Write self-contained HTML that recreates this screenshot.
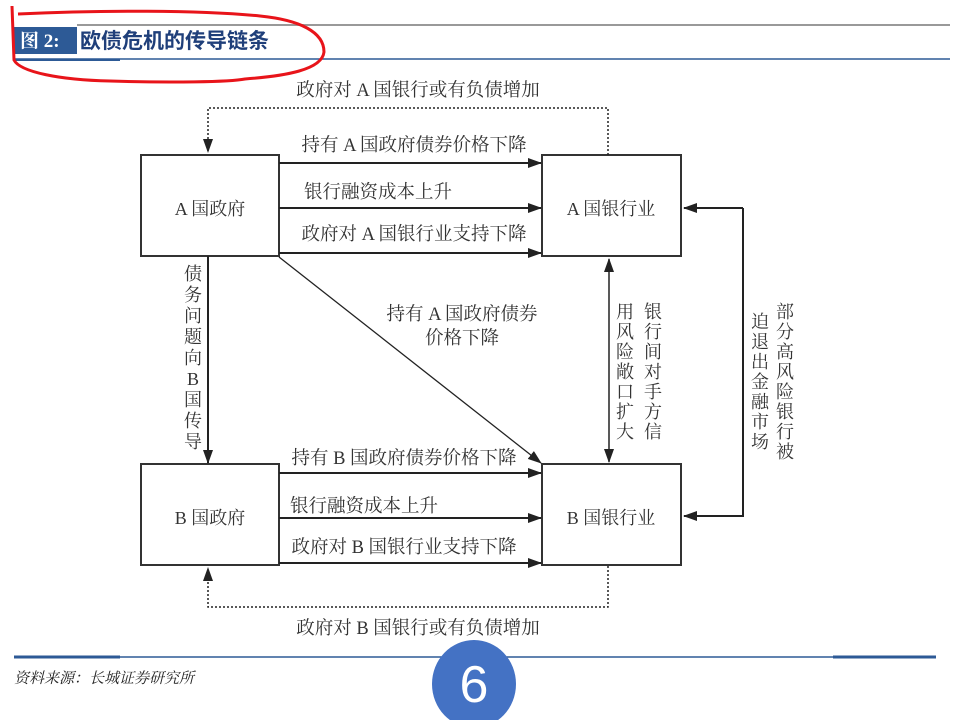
<!DOCTYPE html>
<html><head><meta charset="utf-8"><style>
body{margin:0;background:#fff;}
svg text{font-family:"Liberation Serif","Noto Serif CJK SC",serif;fill:#333;}
</style></head><body>
<svg width="960" height="720" viewBox="0 0 960 720" xmlns="http://www.w3.org/2000/svg">
<defs>
<marker id="ar" markerWidth="14" markerHeight="10" refX="13" refY="5" orient="auto" markerUnits="userSpaceOnUse"><path d="M0,0 L14,5 L0,10 Z" fill="#222"/></marker>
<marker id="ars" markerWidth="14" markerHeight="10" refX="1" refY="5" orient="auto" markerUnits="userSpaceOnUse"><path d="M14,0 L0,5 L14,10 Z" fill="#222"/></marker>
</defs>
<!-- header -->
<line x1="77" y1="25" x2="950" y2="25" stroke="#999" stroke-width="2"/>
<rect x="14" y="27" width="63" height="27" fill="#2d5a96"/>
<text x="20" y="47" style="font-family:'Liberation Serif','Noto Serif CJK SC',serif;fill:#fff;font-weight:bold;font-size:19px">图 2:</text>
<text x="80" y="48" style="font-family:'Liberation Sans','Noto Sans CJK SC',sans-serif;fill:#1f3f7a;font-weight:bold;font-size:21px">欧债危机的传导链条</text>
<line x1="14" y1="59" x2="950" y2="59" stroke="#2d5a96" stroke-width="1.5"/>
<line x1="14" y1="60" x2="120" y2="60" stroke="#2d5a96" stroke-width="2"/>
<path d="M12,6 L14,60 C20,72 60,80 110,81 C170,83 230,82 245,79 C285,76 322,70 324,52 C324,32 300,20 260,16 C200,10 100,10 18,14" fill="none" stroke="#e8141a" stroke-width="3"/>
<!-- boxes -->
<g fill="#fff" stroke="#333" stroke-width="2">
<rect x="141" y="155" width="138" height="101"/>
<rect x="542" y="155" width="139" height="101"/>
<rect x="141" y="464" width="138" height="101"/>
<rect x="542" y="464" width="139" height="101"/>
</g>
<g font-size="18" text-anchor="middle">
<text x="210" y="215">A 国政府</text>
<text x="611" y="215">A 国银行业</text>
<text x="210" y="524">B 国政府</text>
<text x="611" y="524">B 国银行业</text>
</g>
<!-- arrows -->
<g stroke="#222" stroke-width="2" marker-end="url(#ar)">
<line x1="279" y1="163" x2="541" y2="163"/>
<line x1="279" y1="208" x2="541" y2="208"/>
<line x1="279" y1="253" x2="541" y2="253"/>
<line x1="279" y1="473" x2="541" y2="473"/>
<line x1="279" y1="518" x2="541" y2="518"/>
<line x1="279" y1="563" x2="541" y2="563"/>
<line x1="208" y1="256" x2="208" y2="463"/>
<line x1="279" y1="257" x2="541" y2="463" stroke-width="1.3"/>
<line x1="609" y1="259" x2="609" y2="462" marker-start="url(#ars)" stroke-width="1.5"/>
<polyline points="743,208 684,208" fill="none"/>
<polyline points="743,208 743,516 684,516" fill="none"/>
</g>
<g stroke="#222" stroke-width="1.5" stroke-dasharray="2,2" fill="none">
<polyline points="608,155 608,108 208,108 208,152" marker-end="url(#ar)"/>
<polyline points="608,566 608,607 208,607 208,568" marker-end="url(#ar)"/>
</g>
<g font-size="18.5" text-anchor="middle">
<text x="418" y="96">政府对 A 国银行或有负债增加</text>
<text x="414" y="151">持有 A 国政府债券价格下降</text>
<text x="378" y="198">银行融资成本上升</text>
<text x="414" y="240">政府对 A 国银行业支持下降</text>
<text x="462" y="320">持有 A 国政府债券</text>
<text x="462" y="344">价格下降</text>
<text x="404" y="464">持有 B 国政府债券价格下降</text>
<text x="364" y="512">银行融资成本上升</text>
<text x="404" y="553">政府对 B 国银行业支持下降</text>
<text x="418" y="634">政府对 B 国银行或有负债增加</text>
</g>
<g font-size="18" text-anchor="middle">
<text x="193" y="280">债</text><text x="193" y="301">务</text><text x="193" y="322">问</text><text x="193" y="343">题</text><text x="193" y="364">向</text><text x="193" y="385">B</text><text x="193" y="406">国</text><text x="193" y="427">传</text><text x="193" y="448">导</text>
<text x="653" y="318">银</text><text x="653" y="338">行</text><text x="653" y="358">间</text><text x="653" y="378">对</text><text x="653" y="398">手</text><text x="653" y="418">方</text><text x="653" y="438">信</text>
<text x="625" y="318">用</text><text x="625" y="338">风</text><text x="625" y="358">险</text><text x="625" y="378">敞</text><text x="625" y="398">口</text><text x="625" y="418">扩</text><text x="625" y="438">大</text>
<text x="785" y="318">部</text><text x="785" y="338">分</text><text x="785" y="358">高</text><text x="785" y="378">风</text><text x="785" y="398">险</text><text x="785" y="418">银</text><text x="785" y="438">行</text><text x="785" y="458">被</text>
<text x="760" y="328">迫</text><text x="760" y="348">退</text><text x="760" y="368">出</text><text x="760" y="388">金</text><text x="760" y="408">融</text><text x="760" y="428">市</text><text x="760" y="448">场</text>
</g>
<!-- footer -->
<line x1="14" y1="657" x2="936" y2="657" stroke="#2d5a96" stroke-width="1.5"/>
<line x1="14" y1="657" x2="120" y2="657" stroke="#2d5a96" stroke-width="3"/>
<line x1="833" y1="657" x2="936" y2="657" stroke="#2d5a96" stroke-width="3"/>
<text x="14" y="683" style="font-family:'Liberation Serif','Noto Serif CJK SC',serif;font-style:italic;font-size:15px;fill:#222">资料来源：长城证券研究所</text>
<ellipse cx="474" cy="684" rx="42" ry="44" fill="#4472c4"/>
<text x="474" y="702" text-anchor="middle" style="font-family:'Liberation Sans',sans-serif;font-size:52px;fill:#fff">6</text>
</svg>
</body></html>
